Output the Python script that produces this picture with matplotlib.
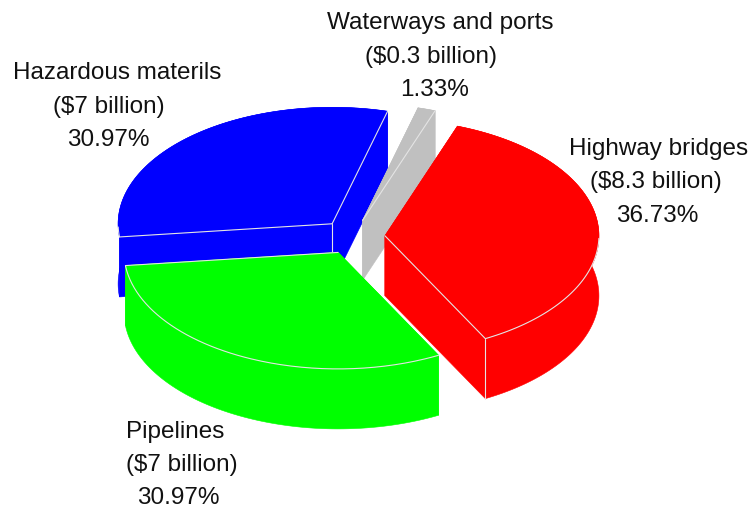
import numpy as np
import matplotlib
matplotlib.use("Agg")
import matplotlib.pyplot as plt
from matplotlib.patches import Polygon

# Infrastructure funding shares, in billions of dollars
categories = ["Highway bridges", "Pipelines", "Hazardous materils", "Waterways and ports"]
billions = [8.3, 7, 7, 0.3]
colors = ["#ff0000", "#00ff00", "#0000ff", "#c0c0c0"]

# Label placement: centre x and middle y of each of the three lines
label_x = {
    "Highway bridges": (659, 656, 657),
    "Pipelines": (175, 182, 178),
    "Hazardous materils": (117, 109, 108),
    "Waterways and ports": (440, 431, 435),
}
label_y = {
    "Highway bridges": (149, 182, 216),
    "Pipelines": (432, 465, 498),
    "Hazardous materils": (73, 107, 140),
    "Waterways and ports": (23, 57, 90),
}

CX, CY = 353, 238      # pie centre before exploding
RX, RY = 214, 116.5    # top ellipse radii
DEPTH = 60             # extrusion height
EXPLODE = 32           # horizontal explode distance
START = 70.2           # angle of the first slice edge, going clockwise
EDGE = "#e4e4e4"

# Which radial edges carry a light line: (first edge, last edge)
radial_lines = {
    "Highway bridges": (False, True),
    "Pipelines": (False, True),
    "Hazardous materils": (True, True),
    "Waterways and ports": (False, True),
}

plt.rcParams["font.family"] = ["Liberation Sans", "DejaVu Sans"]
fig = plt.figure(figsize=(7.51, 5.10), dpi=100)
ax = fig.add_axes([0, 0, 1, 1])
ax.set_xlim(0, 751)
ax.set_ylim(510, 0)
ax.axis("off")

total = sum(billions)
spans = [v / total * 360 for v in billions]
starts = START - np.concatenate([[0], np.cumsum(spans)[:-1]])


def slice_geometry(start, span):
    mid = np.radians(start - span / 2)
    ox = CX + EXPLODE * np.cos(mid)
    oy = CY - EXPLODE * RY / RX * np.sin(mid)
    t = np.radians(np.linspace(start, start - span, 160))
    return ox, oy, ox + RX * np.cos(t), oy - RY * np.sin(t)


def line(xs, ys, z):
    ax.plot(xs, ys, color=EDGE, lw=0.8, zorder=z, solid_capstyle="round")


# Back-to-front painting order: hazardous, waterways, highway, pipelines
z_order = {2: 1, 3: 2, 0: 3, 1: 4}
for i, (start, span) in enumerate(zip(starts, spans)):
    ox, oy, ax_x, ax_y = slice_geometry(start, span)
    z = z_order[i] * 10
    c = colors[i]
    # Extruded body: outer wall plus the two radial cut faces
    wall = np.column_stack([np.r_[ax_x, ax_x[::-1]], np.r_[ax_y, ax_y[::-1] + DEPTH]])
    ax.add_patch(Polygon(wall, closed=True, fc=c, ec=c, lw=0.4, zorder=z))
    for k in (0, -1):
        quad = [(ox, oy), (ax_x[k], ax_y[k]), (ax_x[k], ax_y[k] + DEPTH), (ox, oy + DEPTH)]
        ax.add_patch(Polygon(quad, closed=True, fc=c, ec=c, lw=0.4, zorder=z))
    # Top face
    top = np.column_stack([np.r_[ox, ax_x], np.r_[oy, ax_y]])
    ax.add_patch(Polygon(top, closed=True, fc=c, ec=c, lw=0.4, zorder=z + 1))
    # Light rim lines where faces meet
    first, last = radial_lines[categories[i]]
    if categories[i] == "Waterways and ports":
        line([ox, ax_x[-1]], [oy, ax_y[-1]], z + 2)
    else:
        if first:
            line([ox, ax_x[0]], [oy, ax_y[0]], z + 2)
        if last:
            line([ox, ax_x[-1]], [oy, ax_y[-1]], z + 2)
    lower = ax_y > oy + 2
    if categories[i] != "Waterways and ports":
        line(ax_x[lower], ax_y[lower], z + 2)
    # Vertical corner edges facing the viewer
    if categories[i] == "Highway bridges":
        line([ax_x[-1], ax_x[-1]], [ax_y[-1], ax_y[-1] + DEPTH], z + 2)
    if categories[i] == "Hazardous materils":
        line([ox, ox], [oy, oy + DEPTH], z + 2)

# Three-line labels: name, amount, share
for name, value in zip(categories, billions):
    lines = [name, f"(${value:g} billion)", f"{value / total * 100:.2f}%"]
    for text, x, y in zip(lines, label_x[name], label_y[name]):
        ax.text(x, y, text.replace("$", r"\$"), ha="center", va="center",
                fontsize=17.5, color="#111111", zorder=100)

fig.savefig("out.png", dpi=100, facecolor="white")
